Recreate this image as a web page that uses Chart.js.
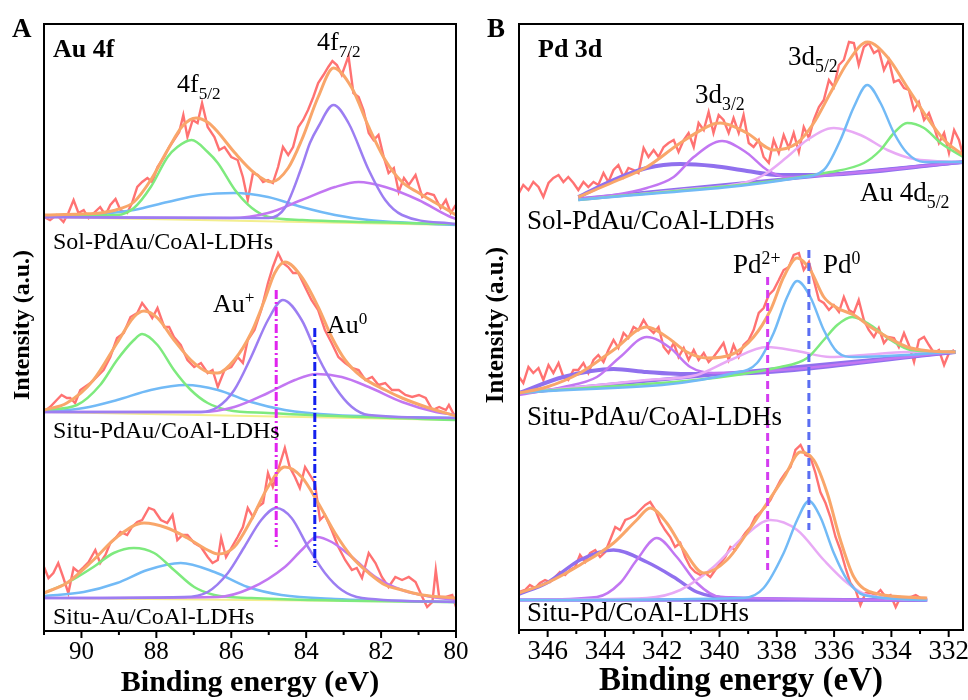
<!DOCTYPE html>
<html>
<head>
<meta charset="utf-8">
<script src="https://cdn.jsdelivr.net/npm/chart.js@4.4.1/dist/chart.umd.min.js"></script>
<style>
  body { margin: 0; background: #fff; width: 968px; height: 700px; position: relative; overflow: hidden; }
  .panel { position: absolute; top: 0; }
  #panelA { left: 0; }
  #panelB { left: 470px; }
</style>
</head>
<body>
<canvas id="panelA" class="panel" width="470" height="700"></canvas>
<canvas id="panelB" class="panel" width="498" height="700"></canvas>
<script>
// ---- Au 4f (binding energy eV, intensity a.u.) ----
const auSolRaw = [[91.00,414],[90.84,411],[90.66,416],[90.48,409],[90.35,418],[90.21,431],[90.08,418],[89.94,421],[89.81,413],[89.67,418],[89.50,424],[89.36,416],[89.23,426],[89.09,432],[88.96,421],[88.78,418],[88.65,428],[88.51,444],[88.38,449],[88.24,453],[88.11,449],[87.97,464],[87.79,474],[87.66,484],[87.53,491],[87.39,499],[87.28,516],[87.17,494],[87.03,511],[86.90,508],[86.78,528],[86.63,504],[86.45,494],[86.32,481],[86.18,484],[86.00,474],[85.83,471],[85.69,454],[85.56,431],[85.42,458],[85.29,456],[85.15,449],[85.02,451],[84.89,448],[84.75,464],[84.62,484],[84.48,476],[84.35,484],[84.21,504],[84.08,511],[83.95,521],[83.81,534],[83.68,548],[83.54,556],[83.41,564],[83.30,570],[83.18,566],[83.05,556],[82.87,575],[82.74,538],[82.60,534],[82.47,521],[82.33,498],[82.20,491],[82.07,496],[81.93,474],[81.80,458],[81.66,463],[81.53,439],[81.39,453],[81.26,446],[81.08,456],[80.90,434],[80.77,438],[80.59,436],[80.41,423],[80.27,431],[80.14,418],[80.01,426]];
const auSolFit = [[91.0,416],[90.0,417],[89.5,418],[89.0,422],[88.6,429],[88.15,451],[87.7,481],[87.3,505],[86.94,513],[86.6,508],[86.36,499],[85.9,478],[85.38,458],[84.93,449],[84.48,463],[84.12,491],[83.68,534],[83.27,563],[82.78,543],[82.33,504],[81.89,471],[81.44,449],[80.99,438],[80.54,428],[80.0,416]];
const auSolGreen = [[91.0,415],[89.05,416],[88.6,423],[88.15,444],[87.7,474],[87.44,484],[87.06,491],[86.63,479],[86.36,468],[85.9,441],[85.45,423],[85.0,414],[84.1,411],[80.0,407]];
const auSolBlue = [[91.0,414],[89.5,417],[88.6,421],[87.7,429],[86.81,436],[85.92,438],[85.02,434],[84.12,424],[83.23,416],[82.33,411],[80.0,406]];
const auSolViolet = [[91.0,414],[85.0,413],[84.57,423],[84.12,464],[83.9,488],[83.68,504],[83.27,526],[82.87,508],[82.33,461],[81.89,431],[81.44,416],[80.0,407]];
const auSolPurple = [[91.0,414],[86.0,413],[85.02,418],[84.12,431],[83.23,444],[82.6,449],[81.89,444],[81.0,431],[80.2,415],[80.0,412]];
const auSolBase = [[91.0,414],[80.0,406]];

const auMidRaw = [[91.00,219],[90.84,224],[90.66,231],[90.53,236],[90.39,233],[90.30,233],[90.17,228],[90.03,241],[89.76,248],[89.59,254],[89.41,261],[89.23,274],[89.05,293],[88.87,298],[88.69,314],[88.51,318],[88.38,328],[88.24,321],[88.11,313],[87.97,323],[87.79,304],[87.66,304],[87.53,294],[87.35,286],[87.17,271],[86.99,264],[86.81,268],[86.63,258],[86.50,261],[86.36,244],[86.18,261],[86.00,264],[85.83,274],[85.69,268],[85.56,291],[85.38,301],[85.20,321],[85.02,348],[84.89,364],[84.75,378],[84.62,368],[84.48,364],[84.35,358],[84.21,358],[84.03,344],[83.86,331],[83.68,321],[83.50,301],[83.32,288],[83.14,274],[82.96,268],[82.78,263],[82.60,261],[82.42,251],[82.24,254],[82.07,246],[81.89,248],[81.71,241],[81.53,241],[81.35,236],[81.17,234],[80.99,236],[80.81,233],[80.63,221],[80.45,224],[80.27,221],[80.19,226],[80.05,216]];
const auMidFit = [[91.0,221],[90.39,228],[89.68,251],[89.05,288],[88.6,314],[88.33,320],[87.97,313],[87.53,291],[87.08,271],[86.63,259],[86.36,258],[85.92,271],[85.47,298],[85.11,331],[84.84,358],[84.57,369],[84.12,354],[83.68,324],[83.32,294],[82.96,271],[82.51,254],[81.89,241],[81.44,233],[80.72,223],[80.0,215]];
const auMidGreen = [[91.0,221],[90.12,226],[89.5,246],[89.05,271],[88.6,291],[88.38,297],[87.97,286],[87.53,261],[87.08,241],[86.63,228],[86.09,221],[85.02,218],[80.0,211]];
const auMidBlue = [[91.0,219],[89.94,223],[89.05,231],[88.15,241],[87.21,246],[86.36,241],[85.47,229],[84.57,221],[83.23,216],[80.0,213]];
const auMidViolet = [[91.0,219],[86.81,219],[86.36,224],[85.92,241],[85.47,274],[85.02,311],[84.62,331],[84.12,311],[83.68,274],[83.23,244],[82.78,224],[82.33,216],[80.0,213]];
const auMidPurple = [[91.0,219],[86.81,219],[85.92,224],[85.02,238],[84.3,251],[83.72,257],[83.05,254],[82.33,244],[81.44,229],[80.54,219],[80.0,216]];
const auMidBase = [[91.0,219],[80.0,211]];

const auAuRaw = [[91.00,64],[90.88,53],[90.75,58],[90.62,68],[90.49,54],[90.35,38],[90.21,63],[90.08,59],[89.94,64],[89.81,69],[89.63,81],[89.50,68],[89.36,76],[89.23,88],[89.09,93],[88.96,99],[88.78,96],[88.65,104],[88.51,109],[88.38,111],[88.20,123],[88.06,121],[87.88,111],[87.71,108],[87.57,116],[87.44,91],[87.30,96],[87.17,96],[86.99,88],[86.81,84],[86.63,74],[86.50,68],[86.36,71],[86.27,93],[86.14,74],[86.00,83],[85.83,94],[85.69,104],[85.56,123],[85.42,114],[85.29,124],[85.15,128],[85.02,158],[84.89,144],[84.75,161],[84.57,183],[84.44,164],[84.30,154],[84.17,143],[84.03,164],[83.90,156],[83.77,148],[83.63,111],[83.50,116],[83.32,101],[83.14,84],[82.96,71],[82.78,61],[82.65,63],[82.51,53],[82.33,78],[82.15,68],[81.98,54],[81.80,44],[81.62,54],[81.44,51],[81.26,54],[81.08,49],[80.90,34],[80.77,24],[80.63,29],[80.54,61],[80.45,34],[80.27,34],[80.10,36],[80.00,24]];
const auAuFit = [[91.0,38],[90.39,48],[89.68,71],[89.05,94],[88.33,108],[87.71,103],[87.17,93],[86.63,81],[86.36,77],[85.92,84],[85.47,111],[85.02,144],[84.57,164],[84.12,154],[83.68,128],[83.23,98],[82.78,74],[82.33,58],[81.89,46],[81.44,41],[80.9,36],[80.0,33]];
const auAuGreen = [[91.0,38],[90.39,48],[89.68,64],[89.14,78],[88.6,83],[88.06,78],[87.53,61],[86.99,44],[86.45,36],[85.47,33],[80.0,29]];
const auAuBlue = [[91.0,35],[89.94,39],[89.05,48],[88.24,61],[87.35,68],[86.45,59],[85.56,44],[84.66,36],[83.23,32],[80.0,29]];
const auAuViolet = [[91.0,33],[87.26,34],[86.63,39],[86.09,58],[85.65,84],[85.2,111],[84.8,123],[84.39,113],[83.95,84],[83.5,58],[83.05,41],[82.51,33],[80.0,29]];
const auAuPurple = [[91.0,33],[86.36,34],[85.47,43],[84.57,64],[84.12,81],[83.72,94],[83.32,89],[82.78,74],[82.15,54],[81.44,41],[80.63,34],[80.0,31]];
const auAuBase = [[91.0,33],[80.0,29]];

// Au+ / Au0 guide lines (energy, top, bottom)
const auGuidePlus = [[84.80,341],[84.80,84]];
const auGuideZero = [[83.77,303],[83.77,64]];

// ---- Pd 3d ----
const pdSolRaw = [[347.00,438],[346.85,446],[346.67,441],[346.50,449],[346.32,444],[346.15,434],[345.97,448],[345.80,453],[345.62,456],[345.45,449],[345.28,454],[345.10,448],[344.93,441],[344.75,449],[344.58,444],[344.40,449],[344.23,446],[344.05,458],[343.88,449],[343.70,461],[343.53,466],[343.35,454],[343.18,463],[343.00,461],[342.83,458],[342.65,483],[342.48,474],[342.30,481],[342.13,474],[341.95,484],[341.78,488],[341.60,491],[341.43,479],[341.25,491],[341.08,498],[340.90,484],[340.73,508],[340.55,501],[340.38,519],[340.21,498],[340.03,516],[339.86,511],[339.68,498],[339.51,513],[339.33,498],[339.16,516],[338.98,488],[338.81,484],[338.63,491],[338.46,474],[338.28,468],[338.11,491],[337.93,478],[337.76,496],[337.58,483],[337.41,498],[337.23,479],[337.06,504],[336.88,493],[336.71,511],[336.53,524],[336.36,531],[336.18,551],[336.01,544],[335.83,566],[335.66,571],[335.48,589],[335.31,588],[335.14,566],[334.96,584],[334.79,588],[334.61,578],[334.44,581],[334.26,561],[334.09,571],[333.91,549],[333.74,551],[333.56,543],[333.39,541],[333.21,521],[333.04,529],[332.86,511],[332.69,518],[332.51,504],[332.34,488],[332.16,498],[331.99,478],[331.81,501],[331.64,491],[331.52,478]];
const pdSolFit = [[344.93,434],[343.70,449],[342.54,464],[341.37,488],[340.21,507],[339.97,508],[339.04,498],[338.11,481],[337.29,488],[336.71,508],[336.13,538],[335.54,568],[334.84,589],[334.14,574],[333.45,544],[332.86,518],[332.16,491],[331.49,476]];
const pdSolBroad = [[344.93,434],[343.70,451],[342.54,463],[341.37,467],[340.21,465],[339.04,460],[337.87,456],[336.71,456],[331.49,469]];
const pdSolPurple = [[344.93,432],[343.70,436],[342.54,443],[341.6,454],[340.9,474],[339.91,490],[339.04,478],[338.34,461],[337.64,454],[336.71,455],[331.49,469]];
const pdSolPink = [[344.93,431],[341.37,441],[339.04,449],[338.46,456],[337.64,474],[336.94,491],[336.01,503],[335.08,496],[334.14,481],[333.21,472],[331.49,469]];
const pdSolBlue = [[344.93,431],[337.29,453],[336.36,461],[335.78,491],[335.31,524],[334.84,546],[334.38,528],[333.91,498],[333.45,478],[332.86,469],[331.49,469]];
const pdSolGreen = [[344.93,431],[336.13,459],[334.96,468],[334.38,481],[333.91,498],[333.45,508],[332.86,503],[332.28,488],[331.49,474]];
const pdSolBase = [[344.93,432],[331.49,469]];

const pdMidRaw = [[347.00,254],[346.85,248],[346.67,264],[346.50,258],[346.32,263],[346.15,251],[345.97,266],[345.80,258],[345.62,268],[345.45,254],[345.28,251],[345.10,261],[344.93,261],[344.75,268],[344.58,258],[344.40,271],[344.23,276],[344.05,269],[343.88,281],[343.70,291],[343.53,283],[343.35,298],[343.18,293],[343.00,304],[342.83,301],[342.65,311],[342.48,303],[342.30,298],[342.13,304],[341.95,284],[341.78,278],[341.60,288],[341.43,274],[341.25,283],[341.08,271],[340.90,281],[340.73,271],[340.55,278],[340.38,269],[340.21,274],[340.03,281],[339.86,288],[339.68,271],[339.51,286],[339.33,274],[339.16,286],[338.98,291],[338.81,301],[338.63,318],[338.46,323],[338.28,336],[338.11,341],[337.93,351],[337.76,361],[337.58,364],[337.41,376],[337.23,378],[337.06,361],[336.88,369],[336.71,351],[336.53,331],[336.36,328],[336.18,321],[336.01,326],[335.83,319],[335.66,334],[335.48,321],[335.31,318],[335.14,331],[334.96,311],[334.79,301],[334.61,294],[334.44,303],[334.26,288],[334.09,294],[333.91,293],[333.74,284],[333.56,298],[333.39,286],[333.21,269],[333.04,291],[332.86,294],[332.69,286],[332.51,278],[332.34,281],[332.16,266],[331.99,278],[331.81,281]];
const pdMidFit = [[347.0,238],[346.03,244],[344.87,258],[343.70,281],[342.54,304],[341.84,294],[341.14,279],[340.44,273],[339.62,276],[338.81,294],[338.22,321],[337.76,354],[337.29,373],[336.83,361],[336.36,334],[335.89,323],[335.31,316],[334.73,304],[334.14,294],[333.45,284],[332.63,280],[331.76,279]];
const pdMidBroad = [[347.0,238],[345.45,254],[343.70,262],[342.54,259],[341.37,257],[340.21,257],[331.76,279]];
const pdMidPurple = [[347.0,236],[345.45,244],[344.28,254],[343.47,274],[342.54,294],[341.72,283],[341.02,264],[340.21,258],[331.76,279]];
const pdMidPink = [[347.0,238],[342.54,251],[340.79,256],[339.62,271],[338.34,284],[337.29,280],[336.13,274],[334.96,276],[333.45,279],[331.76,279]];
const pdMidBlue = [[347.0,238],[339.51,258],[338.69,268],[338.11,298],[337.64,334],[337.29,350],[336.83,334],[336.36,301],[335.89,279],[335.31,274],[331.76,279]];
const pdMidGreen = [[347.0,238],[337.87,264],[336.94,273],[336.36,291],[335.89,306],[335.37,314],[334.73,306],[334.03,291],[333.33,281],[331.76,279]];
const pdMidBase = [[347.0,238],[331.76,279]];

const pdPdRaw = [[347.00,39],[346.79,41],[346.62,46],[346.44,43],[346.27,48],[346.09,51],[345.92,49],[345.74,54],[345.57,59],[345.39,56],[345.22,61],[345.04,64],[344.87,76],[344.69,69],[344.52,78],[344.34,81],[344.17,74],[343.99,79],[343.82,91],[343.64,104],[343.47,101],[343.29,111],[343.12,113],[342.94,116],[342.77,121],[342.59,126],[342.42,129],[342.24,121],[342.07,109],[341.90,101],[341.72,94],[341.55,84],[341.37,88],[341.20,74],[341.02,64],[340.85,59],[340.67,56],[340.50,58],[340.32,54],[340.15,61],[339.97,68],[339.80,74],[339.62,84],[339.45,81],[339.27,91],[339.10,98],[338.92,104],[338.75,114],[338.57,119],[338.40,124],[338.22,131],[338.05,141],[337.87,151],[337.70,158],[337.52,164],[337.35,181],[337.17,186],[337.00,176],[336.83,174],[336.65,158],[336.48,139],[336.30,128],[336.13,114],[335.95,94],[335.78,81],[335.60,63],[335.43,48],[335.25,41],[335.08,26],[334.90,38],[334.73,38],[334.55,36],[334.38,41],[334.20,34],[334.03,36],[333.85,24],[333.68,34],[333.50,33],[333.33,34],[333.15,36],[332.98,33],[332.80,33]];
const pdPdFit = [[347.0,38],[346.03,48],[344.87,66],[343.70,88],[342.89,111],[342.42,123],[341.84,108],[341.25,81],[340.55,58],[339.74,71],[339.04,98],[338.34,128],[337.76,153],[337.17,179],[336.71,171],[336.24,138],[335.78,91],[335.31,54],[334.61,38],[332.75,33]];
const pdPdBroad = [[347.0,37],[346.03,48],[344.87,71],[343.70,81],[342.54,69],[341.6,54],[340.79,39],[339.62,33],[332.75,31]];
const pdPdPurple = [[347.0,31],[344.28,34],[343.47,48],[342.89,71],[342.19,93],[341.49,74],[340.79,48],[339.97,34],[332.75,31]];
const pdPdPink = [[347.0,31],[342.54,33],[341.37,41],[340.21,64],[339.16,94],[338.22,111],[337.29,101],[336.36,71],[335.54,48],[334.84,36],[332.75,31]];
const pdPdBlue = [[347.0,31],[339.16,33],[338.46,43],[337.76,78],[337.29,111],[336.88,130],[336.48,114],[336.01,78],[335.54,51],[334.96,36],[332.75,31]];
const pdPdBase = [[347.0,31],[332.75,31]];

// Pd2+ / Pd0 guide lines
const pdGuideTwo = [[338.32,354],[338.32,61]];
const pdGuideZero = [[336.88,381],[336.88,101]];

const colors = {
  raw: '#ff7272', fit: '#f9a66a', green: '#7eea7e', blue: '#72baf6',
  violet: '#9c7ef2', purple: '#c277f2', pink: '#e8aaf5', broad: '#9070ee', base: '#f3ee8e'
};
const serif = '"Liberation Serif", "Times New Roman", serif';

function series(points, color, width, order, extra) {
  return Object.assign({
    data: points.map(([x, y]) => ({ x, y })),
    borderColor: color,
    borderWidth: width,
    pointRadius: 0,
    fill: false,
    cubicInterpolationMode: 'monotone',
    order: order
  }, extra || {});
}
const raw = (pts) => series(pts, colors.raw, 2.4, 9, { tension: 0, cubicInterpolationMode: 'default' });
const guide = (pts, color, dash) => series(pts, color, 3, 0, { borderDash: dash, tension: 0, cubicInterpolationMode: 'default' });

// draws a string made of plain / _sub / ^sup pieces
function drawRich(ctx, item) {
  let cx = item.x;
  item.parts.forEach(p => {
    let txt = p, fs = item.size, dy = 0;
    if (p[0] === '_') { txt = p.slice(1); fs = item.size * 0.66; dy = item.size * 0.25; }
    else if (p[0] === '^') { txt = p.slice(1); fs = item.size * 0.66; dy = -item.size * 0.34; }
    ctx.font = (item.bold ? 'bold ' : '') + fs + 'px ' + serif;
    ctx.fillText(txt, cx, item.y + dy);
    cx += ctx.measureText(txt).width;
  });
}

const panelDecor = {
  id: 'panelDecor',
  afterDraw(chart, args, opts) {
    const { ctx, chartArea: a } = chart;
    const x = chart.scales.x;
    ctx.save();
    ctx.strokeStyle = '#000';
    ctx.lineWidth = 2;
    ctx.strokeRect(a.left, a.top, a.right - a.left, a.bottom - a.top);
    for (let v = Math.ceil(x.min); v <= x.max; v++) {
      const px = x.getPixelForValue(v);
      ctx.beginPath();
      ctx.moveTo(px, a.bottom);
      ctx.lineTo(px, a.bottom + (v % 2 === 0 ? 7 : 4));
      ctx.stroke();
    }
    ctx.fillStyle = '#000';
    ctx.textAlign = 'left';
    ctx.textBaseline = 'alphabetic';
    opts.texts.forEach(t => drawRich(ctx, t));
    // y axis title
    ctx.translate(opts.yTitle.x, opts.yTitle.y);
    ctx.rotate(-Math.PI / 2);
    ctx.textAlign = 'center';
    ctx.textBaseline = 'middle';
    ctx.font = 'bold ' + opts.yTitle.size + 'px ' + serif;
    ctx.fillText('Intensity (a.u.)', 0, 0);
    ctx.restore();
  }
};

function makeChart(id, cfg) {
  return new Chart(document.getElementById(id), {
    type: 'line',
    data: { datasets: cfg.datasets },
    plugins: [panelDecor],
    options: {
      responsive: false,
      animation: false,
      layout: { autoPadding: false, padding: cfg.padding },
      scales: {
        x: {
          type: 'linear',
          reverse: true,
          min: cfg.xMin,
          max: cfg.xMax,
          // one tick per whole eV, even ones get a label
          afterBuildTicks: (scale) => {
            const ticks = [];
            for (let v = Math.ceil(scale.min); v <= Math.floor(scale.max); v++) ticks.push({ value: v });
            scale.ticks = ticks;
          },
          afterFit: (scale) => { scale.height = cfg.axisHeight; },
          border: { display: false },
          grid: { drawOnChartArea: false, drawTicks: true, tickLength: 6, tickColor: 'rgba(0,0,0,0)' },
          ticks: {
            autoSkip: false,
            maxRotation: 0,
            padding: cfg.tickPad,
            color: '#000',
            font: { family: serif, size: cfg.tickSize },
            callback: (v) => (v % 2 === 0 ? v : '')
          },
          title: {
            display: true,
            text: 'Binding energy (eV)',
            color: '#000',
            padding: 0,
            font: { family: serif, size: cfg.titleSize, weight: 'bold', lineHeight: 1.15 }
          }
        },
        y: { display: false, min: cfg.yMin, max: cfg.yMax }
      },
      plugins: {
        legend: { display: false },
        tooltip: { enabled: false },
        panelDecor: { texts: cfg.texts, yTitle: cfg.yTitle }
      }
    }
  });
}

makeChart('panelA', {
  xMin: 80, xMax: 91, yMin: 0, yMax: 607,
  padding: { left: 44, right: 14, top: 24, bottom: 0 },
  axisHeight: 69, tickSize: 25, tickPad: 0, titleSize: 30,
  yTitle: { x: 23, y: 325, size: 24 },
  texts: [
    { x: 12, y: 37, size: 27, bold: true, parts: ['A'] },
    { x: 53, y: 57, size: 26, bold: true, parts: ['Au 4f'] },
    { x: 177, y: 92, size: 26, parts: ['4f', '_5/2'] },
    { x: 317, y: 50, size: 26, parts: ['4f', '_7/2'] },
    { x: 213, y: 312, size: 26, parts: ['Au', '^+'] },
    { x: 327, y: 333, size: 26, parts: ['Au', '^0'] },
    { x: 53, y: 249, size: 24, parts: ['Sol-PdAu/CoAl-LDHs'] },
    { x: 53, y: 438, size: 24, parts: ['Situ-PdAu/CoAl-LDHs'] },
    { x: 53, y: 624, size: 24, parts: ['Situ-Au/CoAl-LDHs'] }
  ],
  datasets: [
    guide(auGuidePlus, '#e024ee', [9, 3, 2, 3]),
    guide(auGuideZero, '#1420ee', [9, 3, 2, 3]),
    series(auSolFit, colors.fit, 3, 1), series(auSolViolet, colors.violet, 2.5, 2), series(auSolPurple, colors.purple, 2.5, 2),
    series(auSolGreen, colors.green, 2.5, 2), series(auSolBlue, colors.blue, 2.5, 2), series(auSolBase, colors.base, 2, 3), raw(auSolRaw),
    series(auMidFit, colors.fit, 3, 1), series(auMidViolet, colors.violet, 2.5, 2), series(auMidPurple, colors.purple, 2.5, 2),
    series(auMidGreen, colors.green, 2.5, 2), series(auMidBlue, colors.blue, 2.5, 2), series(auMidBase, colors.base, 2, 3), raw(auMidRaw),
    series(auAuFit, colors.fit, 3, 1), series(auAuViolet, colors.violet, 2.5, 2), series(auAuPurple, colors.purple, 2.5, 2),
    series(auAuGreen, colors.green, 2.5, 2), series(auAuBlue, colors.blue, 2.5, 2), series(auAuBase, colors.base, 2, 3), raw(auAuRaw)
  ]
});

makeChart('panelB', {
  xMin: 331.5, xMax: 347, yMin: 1, yMax: 607,
  padding: { left: 49, right: 5, top: 24, bottom: 0 },
  axisHeight: 70, tickSize: 27, tickPad: 0, titleSize: 33,
  yTitle: { x: 27, y: 325, size: 25 },
  texts: [
    { x: 17, y: 37, size: 27, bold: true, parts: ['B'] },
    { x: 68, y: 57, size: 26, bold: true, parts: ['Pd 3d'] },
    { x: 225, y: 103, size: 27, parts: ['3d', '_3/2'] },
    { x: 318, y: 65, size: 27, parts: ['3d', '_5/2'] },
    { x: 390, y: 201, size: 27, parts: ['Au 4d', '_5/2'] },
    { x: 263, y: 273, size: 27, parts: ['Pd', '^2+'] },
    { x: 353, y: 273, size: 27, parts: ['Pd', '^0'] },
    { x: 57, y: 229, size: 27, parts: ['Sol-PdAu/CoAl-LDHs'] },
    { x: 57, y: 425, size: 27, parts: ['Situ-PdAu/CoAl-LDHs'] },
    { x: 57, y: 621, size: 27, parts: ['Situ-Pd/CoAl-LDHs'] }
  ],
  datasets: [
    guide(pdGuideTwo, '#d43cf0', [8, 5]),
    guide(pdGuideZero, '#5a6ef2', [8, 5]),
    series(pdSolFit, colors.fit, 3, 1), series(pdSolBlue, colors.blue, 2.5, 2), series(pdSolGreen, colors.green, 2.5, 2),
    series(pdSolPink, colors.pink, 2.5, 2), series(pdSolPurple, colors.purple, 2.5, 2), series(pdSolBroad, colors.broad, 4, 2),
    series(pdSolBase, colors.broad, 3.5, 3), raw(pdSolRaw),
    series(pdMidFit, colors.fit, 3, 1), series(pdMidBlue, colors.blue, 2.5, 2), series(pdMidGreen, colors.green, 2.5, 2),
    series(pdMidPink, colors.pink, 2.5, 2), series(pdMidPurple, colors.purple, 2.5, 2), series(pdMidBroad, colors.broad, 4, 2),
    series(pdMidBase, colors.broad, 3.5, 3), raw(pdMidRaw),
    series(pdPdFit, colors.fit, 3, 1), series(pdPdBlue, colors.blue, 2.5, 2), series(pdPdPink, colors.pink, 2.5, 2),
    series(pdPdPurple, colors.purple, 2.5, 2), series(pdPdBroad, colors.broad, 3.5, 2),
    series(pdPdBase, colors.broad, 3.5, 3), raw(pdPdRaw)
  ]
});
</script>
</body>
</html>
